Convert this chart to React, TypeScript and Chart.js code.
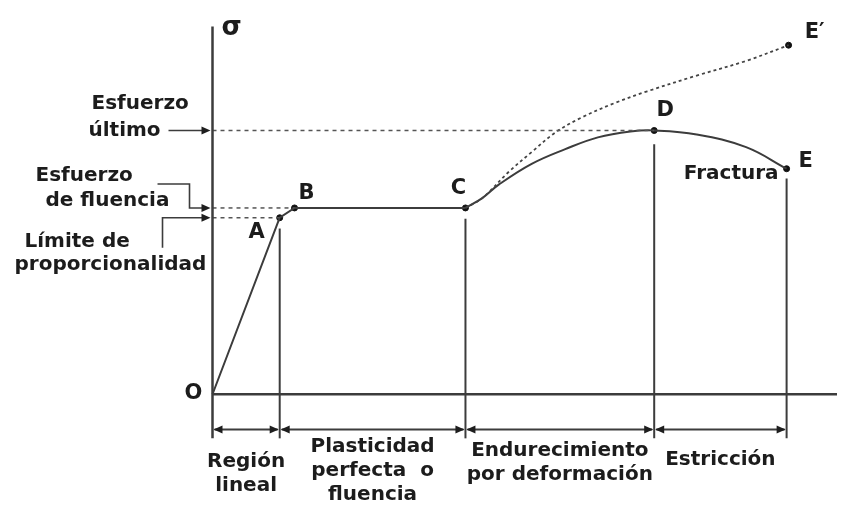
import { useEffect, useRef } from "react";
import { Chart, registerables } from "chart.js";

Chart.register(...registerables);

// ---- Data (strain = horizontal, stress = vertical, arbitrary units) ----
const linearStrain = [0, 0.68, 0.83, 2.56];
const linearStress = [0, 18.0, 19.0, 19.0];

const hardeningStrain = [2.56, 2.73, 2.9, 3.23, 3.57, 3.9, 4.23, 4.47, 4.9, 5.4, 5.81];
const hardeningStress = [19.0, 20.0, 21.4, 23.5, 25.0, 26.2, 26.8, 26.9, 26.5, 25.2, 23.0];

const trueStrain = [2.56, 2.73, 3.0, 3.23, 3.47, 3.73, 4.07, 4.4, 4.9, 5.4, 5.83];
const trueStress = [19.0, 20.0, 22.7, 24.7, 26.7, 28.2, 29.7, 30.9, 32.5, 34.0, 35.6];

const keyLabels = ["A", "B", "C", "D", "E", "E\u2032"];
const keyStrain = [0.68, 0.83, 2.56, 4.47, 5.81, 5.83];
const keyStress = [18.0, 19.0, 19.0, 26.9, 23.0, 35.6];

const regionBounds = [0, 0.68, 2.56, 4.47, 5.81];
const regionLabels = [
  ["Región", "lineal"],
  ["Plasticidad", "perfecta  o", "fluencia"],
  ["Endurecimiento", "por deformación"],
  ["Estricción"],
];

const ultimateStress = 26.9;
const yieldStress = 19.0;
const proportionalStress = 18.0;

const sigmaTop = 37.5;
const belowAxis = -4.5;
const strainEnd = 6.32;
const dimensionLevel = -3.6;

const xMin = -2.1;
const xMax = 6.32;
const yMin = -11.4;
const yMax = 39.7;

const LINE = "#3c3c3c";
const TEXT = "#1c1c1c";
const FONT = "'DejaVu Sans', 'Liberation Sans', sans-serif";

function seg(xs: number[], ys: number[]) {
  return xs.map((x, i) => ({ x, y: ys[i] }));
}

function arrowHead(ctx: CanvasRenderingContext2D, x: number, y: number, dir: number) {
  const len = 9;
  const half = 4;
  ctx.beginPath();
  ctx.moveTo(x, y);
  ctx.lineTo(x - dir * len, y - half);
  ctx.lineTo(x - dir * len, y + half);
  ctx.closePath();
  ctx.fill();
}

const annotationPlugin = {
  id: "annotations",
  afterDatasetsDraw(chart: any) {
    const ctx: CanvasRenderingContext2D = chart.ctx;
    const sx = chart.scales.x;
    const sy = chart.scales.y;
    const px = (v: number) => sx.getPixelForValue(v);
    const py = (v: number) => sy.getPixelForValue(v);
    const ax = px(0);

    ctx.save();
    ctx.strokeStyle = LINE;
    ctx.fillStyle = "#1e1e1e";
    ctx.lineWidth = 2;

    // dimension arrows
    const dy = py(dimensionLevel);
    for (let i = 0; i < regionBounds.length - 1; i++) {
      const xs = px(regionBounds[i]);
      const xe = px(regionBounds[i + 1]);
      ctx.beginPath();
      ctx.moveTo(xs + 2, dy);
      ctx.lineTo(xe - 2, dy);
      ctx.stroke();
      arrowHead(ctx, xs + 1, dy, -1);
      arrowHead(ctx, xe - 1, dy, 1);
    }

    // left pointer arrows
    const yu = py(ultimateStress);
    const yf = py(yieldStress);
    const yp = py(proportionalStress);
    ctx.lineWidth = 1.6;
    ctx.beginPath();
    ctx.moveTo(ax - 44, yu);
    ctx.lineTo(ax - 6, yu);
    ctx.stroke();
    arrowHead(ctx, ax - 2, yu, 1);

    ctx.beginPath();
    ctx.moveTo(ax - 55, yf - 24);
    ctx.lineTo(ax - 23, yf - 24);
    ctx.lineTo(ax - 23, yf);
    ctx.lineTo(ax - 6, yf);
    ctx.stroke();
    arrowHead(ctx, ax - 2, yf, 1);

    ctx.beginPath();
    ctx.moveTo(ax - 50, yp + 30);
    ctx.lineTo(ax - 50, yp);
    ctx.lineTo(ax - 6, yp);
    ctx.stroke();
    arrowHead(ctx, ax - 2, yp, 1);

    // texts
    ctx.fillStyle = TEXT;
    ctx.textBaseline = "middle";
    ctx.font = `bold 20px ${FONT}`;
    ctx.textAlign = "left";
    ctx.fillText("Esfuerzo", ax - 121, yu - 27);
    ctx.fillText("último", ax - 124, yu);
    ctx.fillText("Esfuerzo", ax - 177, yf - 32);
    ctx.fillText("de fluencia", ax - 167, yf - 7);
    ctx.fillText("Límite de", ax - 188, yp + 24);
    ctx.fillText("proporcionalidad", ax - 198, yp + 47);

    // region labels
    ctx.textAlign = "center";
    const firstLine = [32, 17, 21, 30];
    for (let i = 0; i < regionLabels.length; i++) {
      const cx = (px(regionBounds[i]) + px(regionBounds[i + 1])) / 2;
      regionLabels[i].forEach((t, j) => {
        ctx.fillText(t, cx, dy + firstLine[i] + j * 24);
      });
    }

    // point labels
    const offsets: Record<string, [number, number]> = {
      A: [-23, 15],
      B: [12, -14],
      C: [-7, -19],
      D: [11, -20],
      E: [19, -7],
      "E\u2032": [26, -13],
    };
    ctx.font = `bold 21px ${FONT}`;
    keyLabels.forEach((lab, i) => {
      const o = offsets[lab];
      ctx.fillText(lab, px(keyStrain[i]) + o[0], py(keyStress[i]) + o[1]);
    });
    ctx.font = `bold 20px ${FONT}`;
    ctx.textAlign = "right";
    ctx.fillText("Fractura", px(keyStrain[4]) - 8, py(keyStress[4]) + 5);

    ctx.textAlign = "center";
    ctx.font = `bold 21px ${FONT}`;
    ctx.fillText("O", ax - 19, py(0) - 1);
    ctx.font = `bold 26px ${FONT}`;
    ctx.fillText("σ", ax + 19, py(sigmaTop) + 2);

    ctx.restore();
  },
};

export default function App() {
  const ref = useRef<HTMLCanvasElement | null>(null);

  useEffect(() => {
    document.body.style.margin = "0";
    const canvas = ref.current;
    if (!canvas) return;

    const lineDs = (data: any[], extra: any = {}) => ({
      type: "line" as const,
      data,
      borderColor: LINE,
      borderWidth: 2,
      pointRadius: 0,
      fill: false,
      tension: 0,
      ...extra,
    });

    const chart = new Chart(canvas, {
      type: "scatter",
      data: {
        datasets: [
          // axes
          lineDs([{ x: 0, y: belowAxis }, { x: 0, y: sigmaTop }], { borderWidth: 2.5 }),
          lineDs([{ x: 0, y: 0 }, { x: strainEnd, y: 0 }], { borderWidth: 2.5 }),
          // region boundaries
          lineDs([{ x: regionBounds[1], y: belowAxis }, { x: regionBounds[1], y: proportionalStress - 1.1 }]),
          lineDs([{ x: regionBounds[2], y: belowAxis }, { x: regionBounds[2], y: yieldStress - 1.1 }]),
          lineDs([{ x: regionBounds[3], y: belowAxis }, { x: regionBounds[3], y: ultimateStress - 1.4 }]),
          lineDs([{ x: regionBounds[4], y: belowAxis }, { x: regionBounds[4], y: keyStress[4] - 1.0 }]),
          // reference dotted levels
          lineDs([{ x: 0, y: ultimateStress }, { x: keyStrain[3], y: ultimateStress }], {
            borderDash: [4, 4], borderWidth: 1.5, borderColor: "#555",
          }),
          lineDs([{ x: 0, y: yieldStress }, { x: keyStrain[1], y: yieldStress }], {
            borderDash: [4, 4], borderWidth: 1.5, borderColor: "#555",
          }),
          lineDs([{ x: 0, y: proportionalStress }, { x: keyStrain[0], y: proportionalStress }], {
            borderDash: [4, 4], borderWidth: 1.5, borderColor: "#555",
          }),
          // true stress curve (dotted)
          lineDs(seg(trueStrain, trueStress), {
            borderDash: [3, 3], borderWidth: 1.8, borderColor: "#444", tension: 0.35,
          }),
          // engineering curve
          lineDs(seg(linearStrain, linearStress), { borderWidth: 2 }),
          lineDs(seg(hardeningStrain, hardeningStress), { borderWidth: 2, tension: 0.4 }),
          // key points
          {
            type: "scatter" as const,
            data: seg(keyStrain, keyStress),
            pointRadius: 3,
            pointBackgroundColor: "#111",
            pointBorderColor: "#111",
            showLine: false,
          },
        ] as any,
      },
      options: {
        responsive: false,
        animation: false,
        devicePixelRatio: 1,
        layout: { padding: 0 },
        plugins: { legend: { display: false }, tooltip: { enabled: false } },
        scales: {
          x: { type: "linear", min: xMin, max: xMax, display: false },
          y: { type: "linear", min: yMin, max: yMax, display: false },
        },
      },
      plugins: [annotationPlugin],
    });

    return () => chart.destroy();
  }, []);

  return (
    <div style={{ width: 842, height: 511, background: "#fff" }}>
      <canvas ref={ref} width={842} height={511} style={{ display: "block" }} />
    </div>
  );
}
